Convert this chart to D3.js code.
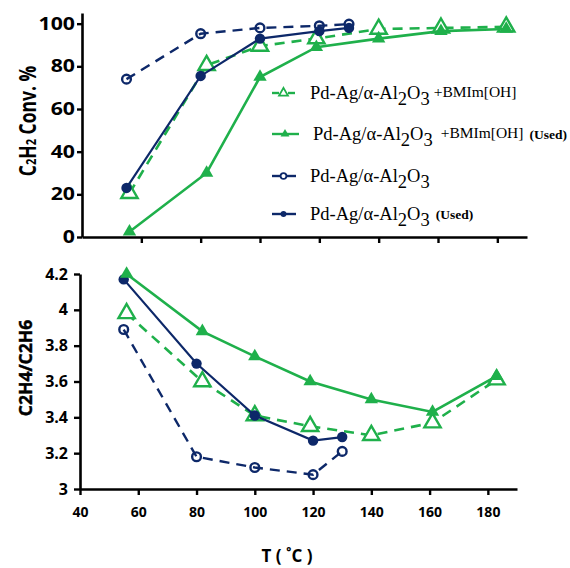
<!DOCTYPE html>
<html><head><meta charset="utf-8">
<script src="https://cdn.jsdelivr.net/npm/d3@7"></script>
<style>body{margin:0;background:#fff}svg{display:block}</style>
</head><body>
<svg id="c" width="570" height="568"></svg>
<script>
// ---- data ----
const tempIL  = [56, 82, 100, 119, 140, 161, 183];
const tempCat = [55, 80, 100, 120, 130];

// C2H2 conversion (%)
const convIL      = [20.5, 80.5, 89.5, 93, 97.5, 98, 98.5];
const convILUsed  = [2.5, 30, 75, 89, 93, 96.5, 97.5];
const convCat     = [74, 95.3, 98, 99, 99.8];
const convCatUsed = [23, 75.5, 93, 96.5, 98];

// C2H4/C2H6 ratio
const selIL      = [3.98, 3.60, 3.41, 3.35, 3.30, 3.37, 3.61];
const selILUsed  = [4.20, 3.88, 3.74, 3.60, 3.50, 3.43, 3.63];
const selCat     = [3.89, 3.18, 3.12, 3.08, 3.21];
const selCatUsed = [4.17, 3.70, 3.41, 3.27, 3.29];

const xTicksTop = [60, 80, 100, 120, 140, 160, 180];
const xTicksBot = [40, 60, 80, 100, 120, 140, 160, 180];
const yTicksTop = [0, 20, 40, 60, 80, 100];
const yTicksBot = [3, 3.2, 3.4, 3.6, 3.8, 4, 4.2];

const green = "#1fb04b", navy = "#0d2869";

const svg = d3.select("#c");

// ---- scales ----
const xTop = d3.scaleLinear().domain([40, 190]).range([82, 527]);
const yTop = d3.scaleLinear().domain([0, 105]).range([237, 13]);
const xBot = d3.scaleLinear().domain([40, 190]).range([80, 517]);
const yBot = d3.scaleLinear().domain([3, 4.2]).range([489, 274]);

function styleAxis(g) {
  g.select(".domain").attr("stroke", "#000").attr("stroke-width", 2.6);
  g.selectAll(".tick line").attr("stroke", "#000").attr("stroke-width", 2.4);
}

// top axes
const gxTop = svg.append("g").attr("transform", "translate(0,237)")
  .call(d3.axisBottom(xTop).tickValues(xTicksTop).tickFormat("").tickSize(6).tickSizeOuter(0));
styleAxis(gxTop);
const sx = 1.25;
const gyTop = svg.append("g").attr("transform", "translate(82,0)")
  .call(d3.axisLeft(yTop).tickValues(yTicksTop).tickSize(5).tickPadding(2).tickSizeOuter(0));
styleAxis(gyTop);
gyTop.selectAll(".tick text")
  .attr("x", -7 / sx).attr("transform", `scale(${sx},1)`)
  .style("font-family", "'Open Sans'").style("font-weight", "bold").style("font-size", "17px").attr("fill", "#000");

// bottom axes
const gxBot = svg.append("g").attr("transform", "translate(0,489)")
  .call(d3.axisBottom(xBot).tickValues(xTicksBot).tickFormat(d3.format("d")).tickSize(6).tickPadding(12).tickSizeOuter(0));
styleAxis(gxBot);
gxBot.selectAll(".tick text")
  .style("font-family", "'Open Sans'").style("font-weight", "bold").style("font-size", "14px").attr("fill", "#000");
const gyBot = svg.append("g").attr("transform", "translate(80,0)")
  .call(d3.axisLeft(yBot).tickValues(yTicksBot).tickFormat(d => d3.format("")(+d.toFixed(1))).tickSize(6).tickPadding(6).tickSizeOuter(0));
styleAxis(gyBot);
gyBot.selectAll(".tick text")
  .style("font-family", "'Open Sans'").style("font-weight", "bold").style("font-size", "16px").attr("fill", "#000");

// axis titles
const t1 = svg.append("text").attr("transform", "translate(36,121) rotate(-90) scale(1,1.28)")
  .attr("text-anchor", "middle")
  .style("font-family", "'Open Sans'").style("font-weight", "bold").style("font-size", "17.5px");
t1.append("tspan").text("C");
t1.append("tspan").style("font-size", "11px").text("2");
t1.append("tspan").text("H");
t1.append("tspan").style("font-size", "11px").text("2");
t1.append("tspan").text(" Conv. %");

svg.append("text").attr("transform", "translate(32,368) rotate(-90)")
  .attr("text-anchor", "middle")
  .style("font-family", "'Open Sans'").style("font-weight", "bold").style("font-size", "17.5px")
  .attr("stroke", "#000").attr("stroke-width", 0.4)
  .text("C2H4/C2H6");

svg.append("text").attr("x", 287).attr("y", 562).attr("text-anchor", "middle")
  .style("font-family", "'Open Sans'").style("font-weight", "bold").style("font-size", "17px")
  .text("T ( ˚C )");

// ---- series ----
const series = [
  {key: "il", color: green, dash: "10,7", shape: d3.symbolTriangle, open: true, size: 115, w: 2.6},
  {key: "cat", color: navy, dash: "10,7", shape: d3.symbolCircle, open: true, size: 60, w: 2.4},
  {key: "catUsed", color: navy, dash: null, shape: d3.symbolCircle, open: false, size: 85, w: 2.2},
  {key: "ilUsed", color: green, dash: null, shape: d3.symbolTriangle, open: false, size: 78, w: 2.6}
];
const dataTop = {il: [tempIL, convIL], cat: [tempCat, convCat], catUsed: [tempCat, convCatUsed], ilUsed: [tempIL, convILUsed]};
const dataBot = {il: [tempIL, selIL], cat: [tempCat, selCat], catUsed: [tempCat, selCatUsed], ilUsed: [tempIL, selILUsed]};

function drawPanel(data, x, y) {
  series.forEach(s => {
    const [xs, ys] = data[s.key];
    const pts = xs.map((v, i) => [v, ys[i]]);
    const line = d3.line().x(d => x(d[0])).y(d => y(d[1]));
    svg.append("path").datum(pts).attr("d", line)
      .attr("fill", "none").attr("stroke", s.color).attr("stroke-width", s.w)
      .attr("stroke-dasharray", s.dash);
    svg.append("g").selectAll("path").data(pts).join("path")
      .attr("transform", d => `translate(${x(d[0])},${y(d[1])})`)
      .attr("d", d3.symbol().type(s.shape).size(s.size))
      .attr("fill", s.open ? (s.shape === d3.symbolTriangle ? "#fff" : "none") : s.color)
      .attr("stroke", s.color).attr("stroke-width", s.open ? 2.4 : 0);
  });
}
drawPanel(dataTop, xTop, yTop);
drawPanel(dataBot, xBot, yBot);

// ---- legend ----
const legendItems = [
  {sub: "+BMIm[OH]", used: false, color: green, shape: d3.symbolTriangle, open: true, dashed: true},
  {sub: "+BMIm[OH]", used: true, color: green, shape: d3.symbolTriangle, open: false, dashed: false},
  {sub: "", used: false, color: navy, shape: d3.symbolCircle, open: true, dashed: false},
  {sub: "", used: true, color: navy, shape: d3.symbolCircle, open: false, dashed: false}
];
const legY = [93, 134, 176, 214];
const legTextX = [310, 313, 310, 310];
legendItems.forEach((it, i) => {
  const g = svg.append("g").attr("transform", `translate(0,${legY[i]})`);
  if (it.dashed) {
    g.append("line").attr("x1", 272).attr("x2", 279).attr("stroke", it.color).attr("stroke-width", 2.4);
    g.append("line").attr("x1", 288).attr("x2", 295).attr("stroke", it.color).attr("stroke-width", 2.4);
  } else {
    g.append("line").attr("x1", 272).attr("x2", i === 1 ? 299 : 296).attr("stroke", it.color).attr("stroke-width", 2.4);
  }
  g.append("path").attr("transform", `translate(${i === 1 ? 285 : 283.5},0)`)
    .attr("d", d3.symbol().type(it.shape).size(it.shape === d3.symbolTriangle ? 34 : 26))
    .attr("fill", it.open ? "#fff" : it.color).attr("stroke", it.color).attr("stroke-width", it.open ? 1.8 : 0);

  const t = g.append("text").attr("x", legTextX[i]).attr("y", 6)
    .style("font-family", "'Liberation Serif'").style("font-size", "18.5px").attr("fill", "#000");
  t.append("tspan").text("Pd-Ag/α-Al");
  t.append("tspan").attr("dy", 6).text("2");
  t.append("tspan").attr("dy", -6).text("O");
  t.append("tspan").attr("dy", 6).text("3");
  let cur = 6;
  if (it.sub) {
    t.append("tspan").attr("dx", i === 1 ? 8 : 4).attr("dy", -8.5).style("font-size", "15.5px").text(it.sub);
    cur = -2.5;
  }
  if (it.used) {
    t.append("tspan").attr("dx", 6).attr("dy", -1.5 - cur).style("font-size", "13.5px").style("font-weight", "bold").text("(Used)");
  }
});
</script>
</body></html>
